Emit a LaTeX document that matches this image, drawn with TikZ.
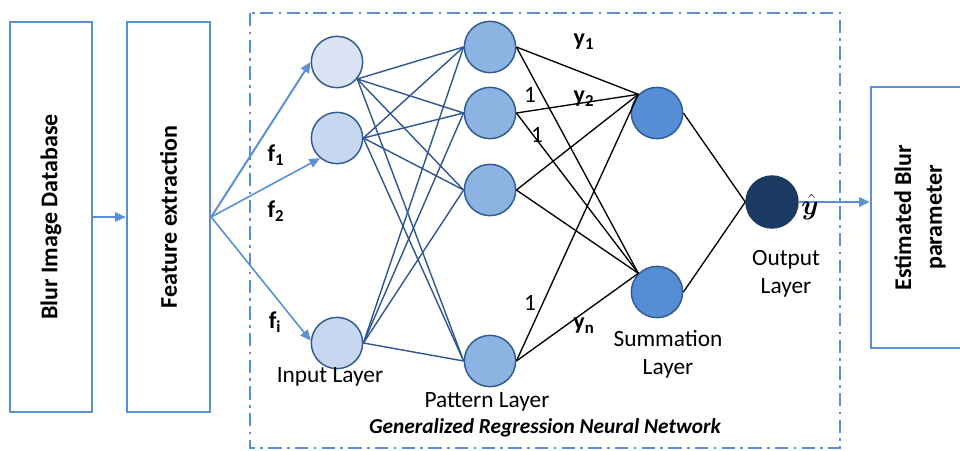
\documentclass[tikz,border=0pt]{standalone}
\usepackage{fontspec}
\setmainfont{Carlito}
\usepackage{amsmath,bm}
\usetikzlibrary{arrows.meta}
\definecolor{boxblue}{HTML}{5B8FD6}
\definecolor{edgeblue}{HTML}{2F5590}
\definecolor{inA}{HTML}{DAE3F3}
\definecolor{inB}{HTML}{C6D7EF}
\definecolor{patfill}{HTML}{8DB3E2}
\definecolor{sumfill}{HTML}{558ED5}
\definecolor{outfill}{HTML}{1B3A62}
\definecolor{ringblue}{HTML}{2E5C92}
\tikzset{
  stagebox/.style={draw=boxblue, line width=1.8pt, inner sep=0pt},
  boxtext/.style={rotate=90, font=\fontsize{18}{23}\selectfont\bfseries, align=center, inner sep=0pt},
  neuron/.style={circle, draw=ringblue, line width=1.1pt, minimum size=38.5pt, inner sep=0pt},
  barrow/.style={draw=boxblue, line width=1.2pt, -{Triangle[length=8pt,width=7pt]}},
  wire/.style={draw=edgeblue, line width=1.05pt},
  bwire/.style={draw=black, line width=1pt},
  lbl/.style={font=\fontsize{17.5}{21}\selectfont, align=center, inner sep=0pt},
  sym/.style={font=\fontsize{18}{20}\selectfont\bfseries, inner sep=0pt},
  frame/.style={draw=boxblue, line width=1.8pt, dash pattern=on 10pt off 4pt on 2pt off 4pt}
}
\begin{document}
\begin{tikzpicture}[x=0.75pt,y=-0.75pt]
\useasboundingbox (0,0) rectangle (960,450);
\clip (0,0) rectangle (960,450);

% GRNN frame
\draw[frame] (250,13) rectangle (840,448);

% stage boxes
\node[stagebox, minimum width=61.5pt, minimum height=292.5pt] (b1) at (51,217) {};
\node[boxtext] (t1) at (51,217) {Blur Image Database};
\node[stagebox, minimum width=62.25pt, minimum height=292.5pt] (b2) at (168.5,217) {};
\node[boxtext] (t2) at (168.5,217) {Feature extraction};
\node[stagebox, minimum width=78pt, minimum height=195.75pt] (b3) at (923,217.5) {};
\node[boxtext] (t3) at (920,217.5) {Estimated Blur\\parameter};

% neurons
\node[neuron, fill=inA] (i1) at (337,62) {};
\node[neuron, fill=inB] (i2) at (337,138) {};
\node[neuron, fill=inB] (i3) at (337,343) {};
\node[neuron, fill=patfill] (p1) at (490,47) {};
\node[neuron, fill=patfill] (p2) at (490,113) {};
\node[neuron, fill=patfill] (p3) at (490,190) {};
\node[neuron, fill=patfill] (p4) at (490,361) {};
\node[neuron, fill=sumfill] (s1) at (657,113) {};
\node[neuron, fill=sumfill] (s2) at (657,292) {};
\node[neuron, fill=outfill, draw=outfill, minimum size=39pt] (o) at (772,202) {};

% arrows
\draw[barrow] (b1) -- (b2);
\draw[barrow, line width=1.5pt] (b2.east) -- (i1.west);
\draw[barrow] (b2.east) -- (i2.230);
\draw[barrow] (b2.east) -- (i3.175);
\draw[barrow] (o.east) -- (o.east -| b3.west);

% input -> pattern
\foreach \p in {p1,p2,p3,p4}{
  \draw[wire] (i1.-40) -- (\p.west);
  \draw[wire] (i2.east) -- (\p.west);
  \draw[wire] (i3.east) -- (\p.west);
}
% pattern -> summation
\foreach \p in {p1,p2,p3,p4}{
  \draw[bwire] (\p.east) -- (s1.135);
  \draw[bwire] (\p.east) -- (s2.135);
}
% summation -> output
\draw[bwire] (s1.east) -- (o.west);
\draw[bwire] (s2.east) -- (o.west);

% symbols
\node[sym] (f1) at (276,155) {f\textsubscript{1}};
\node[sym] (f2) at (276,211) {f\textsubscript{2}};
\node[sym] (fi) at (275,322) {f\textsubscript{i}};
\node[sym] (y1) at (584,42) {y\textsubscript{1}};
\node[sym] (y2) at (584,99) {y\textsubscript{2}};
\node[sym] (yn) at (584,326) {y\textsubscript{n}};
\node[lbl] (one1) at (530,95) {1};
\node[lbl] (one2) at (537,135) {1};
\node[lbl] (one3) at (530,303) {1};
\node[inner sep=0pt, font=\fontsize{20}{22}\selectfont] (yh) at (810,207) {$\bm{\hat{y}}$};

% layer labels
\node[lbl] (li) at (330,377) {Input Layer};
\node[lbl] (lp) at (487,402) {Pattern Layer};
\node[lbl] (ls) at (668,354) {Summation\\Layer};
\node[lbl] (lo) at (786,274) {Output\\Layer};
\node[lbl, font=\fontsize{16}{19}\selectfont\bfseries\itshape] (lg) at (545,428) {Generalized Regression Neural Network};
\end{tikzpicture}
\end{document}
